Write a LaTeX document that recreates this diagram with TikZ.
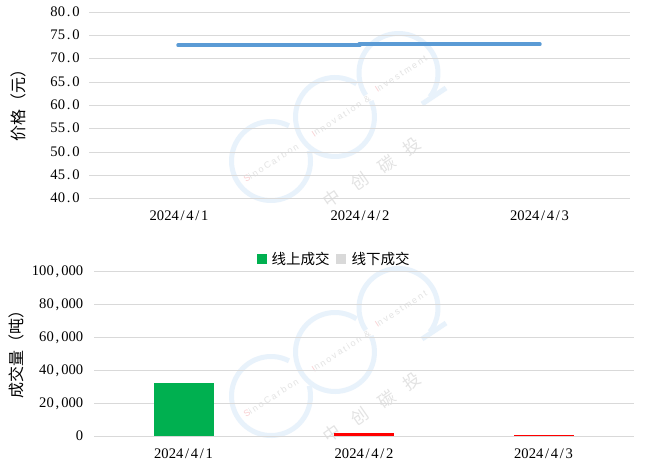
\documentclass[tikz,border=0pt]{standalone}
\usepackage{fontspec}
\setmainfont{Liberation Serif}
\newfontfamily\cjkfont{Noto Sans CJK SC}
\newfontfamily\wmfont[LetterSpace=22]{Liberation Sans}
\definecolor{gridc}{HTML}{D9D9D9}
\definecolor{linec}{HTML}{5B9BD5}
\definecolor{ringc}{HTML}{E8F2FB}
\definecolor{wmgray}{HTML}{E3E3E3}
\definecolor{wmred}{HTML}{F9D0D2}
\definecolor{barg}{HTML}{00B050}
\definecolor{legg}{HTML}{D9D9D9}
\def\monoloop#1{\ifx#1\relax\else\makebox[7.35bp]{#1}\expandafter\monoloop\fi}
\newcommand{\monostr}[1]{\expandafter\monoloop#1\relax}
\tikzset{
  x=1bp,y=1bp,
  grid line/.style={draw=gridc,line width=1bp},
  tick lab/.style={font=\fontsize{14.6bp}{16bp}\selectfont,text=black,inner sep=0pt,anchor=mid east,yshift=-1.6bp},
  cat lab/.style={font=\fontsize{14.6bp}{16bp}\selectfont,text=black,inner sep=0pt,anchor=mid,yshift=-1.6bp},
  axis title/.style={font=\cjkfont\fontsize{16bp}{18bp}\selectfont,text=black,inner sep=0pt,rotate=90,anchor=center},
  legend text/.style={font=\cjkfont\fontsize{14.5bp}{17bp}\selectfont,text=black,inner sep=0pt,anchor=west},
  price line/.style={draw=linec,line width=3.4bp,line cap=round},
  ring/.style={draw=ringc,line width=5bp},
  wm latin/.style={font=\wmfont\fontsize{9bp}{10bp}\selectfont,text=wmgray,inner sep=0pt,rotate=33,anchor=center},
  wm cjk/.style={font=\cjkfont\fontsize{17bp}{19bp}\selectfont,text=wmgray,inner sep=0pt,rotate=35,anchor=center},
}
\newcommand{\wmark}[1]{%
  \begin{scope}[yshift=#1 bp]
    \draw[ring] (271,-161) ++(63:39.5bp) arc[start angle=63,end angle=375,radius=39.5bp];
    \draw[ring] (335,-117) ++(57:39.5bp) arc[start angle=57,end angle=384,radius=39.5bp];
    \draw[ring] (398.5,-73) ++(-37:39.5bp) arc[start angle=-37,end angle=214,radius=39.5bp];
    \coordinate (barbA) at (422,-104);
    \coordinate (barbB) at (446,-88);
    \draw[ring] (barbA) -- (barbB);
    \node[wm latin] at (271,-163) {\textcolor{wmred}{S}inoCarbon};
    \node[wm latin] at (341,-116) {\textcolor{wmred}{I}nnovation \&};
    \node[wm latin] at (401,-74) {\textcolor{wmred}{I}nvestment};
    \node[wm cjk] at (332,-198) {中};
    \node[wm cjk] at (360,-181) {创};
    \node[wm cjk] at (387,-164) {碳};
    \node[wm cjk] at (412,-146) {投};
  \end{scope}}
\begin{document}
\begin{tikzpicture}
\useasboundingbox (0,-471) rectangle (668,0);
\fill[white] (0,-471) rectangle (668,0);
\wmark{0}
\wmark{-235}
% top chart
\foreach \yy/\lab in {12.5/80.0,35.5/75.0,58.5/70.0,82.5/65.0,105.5/60.0,128.5/55.0,152.5/50.0,175.5/45.0,198.5/40.0}{
  \draw[grid line] (89,-\yy) -- (630,-\yy);
  \node[tick lab] at (80,-\yy) {\monostr{\lab}};
}
\coordinate (p1) at (178,-45.2);
\coordinate (p2a) at (360,-45.2);
\coordinate (p2b) at (359,-44.2);
\coordinate (p3) at (540,-44.2);
\draw[price line] (p1) -- (p2a);
\draw[price line] (p2b) -- (p3);
\node[cat lab] (c1) at (179,-217) {\monostr{2024/4/1}};
\node[cat lab] (c2) at (360,-217) {\monostr{2024/4/2}};
\node[cat lab] (c3) at (539.5,-217) {\monostr{2024/4/3}};
\node[axis title] (ty) at (18.5,-102) {价格（元）};
% legend
\fill[barg] (256.5,-264.5) rectangle (267,-254);
\node[legend text] (l1) at (271.5,-259) {线上成交};
\fill[legg] (336,-264.5) rectangle (346,-254);
\node[legend text] (l2) at (351.5,-259) {线下成交};
% bottom chart
\foreach \yy/\lab in {271.5/{100,000},304.5/{80,000},337.5/{60,000},370.5/{40,000},403.5/{20,000},436.5/{0}}{
  \draw[grid line] (94,-\yy) -- (634,-\yy);
  \node[tick lab] at (83.5,-\yy) {\monostr{\lab}};
}
\fill[barg] (154,-436) rectangle (214,-383);
\fill[red] (334,-436) rectangle (394,-433);
\fill[red] (514,-436) rectangle (574,-434.7);
\node[cat lab] (d1) at (183.5,-455) {\monostr{2024/4/1}};
\node[cat lab] (d2) at (364,-455) {\monostr{2024/4/2}};
\node[cat lab] (d3) at (543.5,-455) {\monostr{2024/4/3}};
\node[axis title] (by) at (16.5,-350) {成交量（吨）};
\end{tikzpicture}
\end{document}
